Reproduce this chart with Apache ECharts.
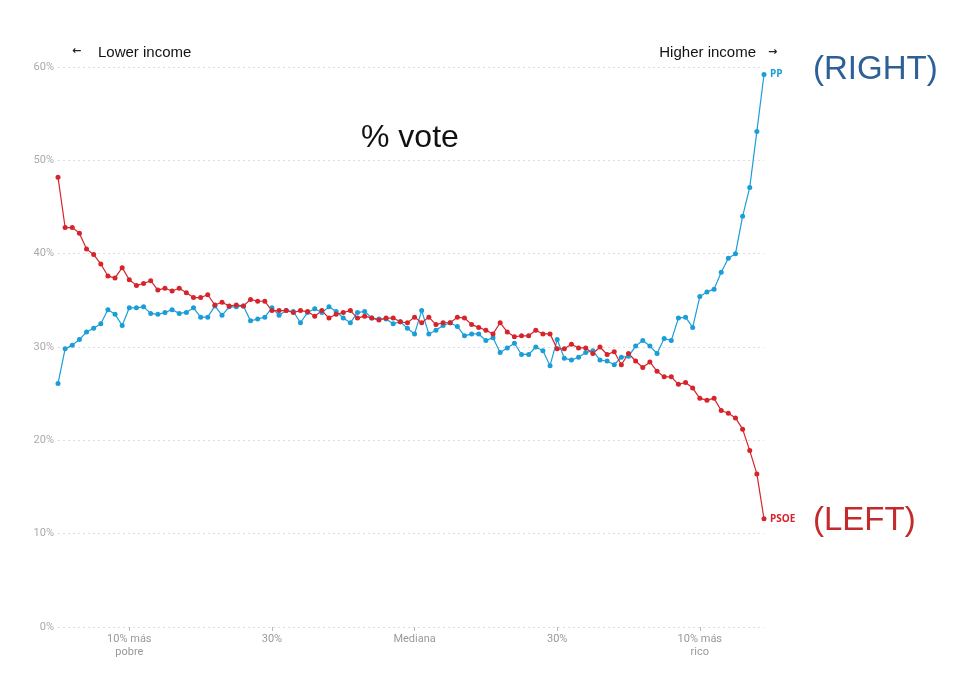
<!DOCTYPE html>
<html>
<head>
<meta charset="utf-8">
<script src="https://cdn.jsdelivr.net/npm/echarts@6/dist/echarts.min.js"></script>
<style>
  html, body { margin: 0; padding: 0; background: #fff; }
  #chart { width: 973px; height: 693px; }
</style>
</head>
<body>
<div id="chart"></div>
<script>
(function() {
  // income percentiles, poorest (0) to richest (99)
  const percentiles = [];
  for (let i = 0; i < 100; i++) percentiles.push(String(i + 1));

  const tickPositions = [10, 30, 50, 70, 90];
  const tickLabels = ['10% más\npobre', '30%', 'Mediana', '30%', '10% más\nrico'];

  const pp = [
    26.1, 29.8, 30.2, 30.8, 31.6, 32.0, 32.5, 34.0, 33.5, 32.3,
    34.2, 34.2, 34.3, 33.6, 33.5, 33.7, 34.0, 33.6, 33.7, 34.2,
    33.2, 33.2, 34.4, 33.4, 34.3, 34.3, 34.4, 32.8, 33.0, 33.2,
    34.2, 33.4, 33.9, 33.8, 32.6, 33.7, 34.1, 33.7, 34.3, 33.8,
    33.1, 32.6, 33.7, 33.8, 33.1, 33.0, 33.0, 32.5, 32.7, 32.0,
    31.4, 33.9, 31.4, 31.8, 32.3, 32.6, 32.2, 31.2, 31.4, 31.4,
    30.7, 31.0, 29.4, 29.9, 30.4, 29.2, 29.2, 30.0, 29.6, 28.0,
    30.8, 28.8, 28.6, 28.9, 29.4, 29.6, 28.6, 28.5, 28.1, 28.9,
    29.0, 30.1, 30.7, 30.1, 29.3, 30.9, 30.7, 33.1, 33.2, 32.1,
    35.4, 35.9, 36.2, 38.0, 39.5, 40.0, 44.0, 47.1, 53.1, 59.2
  ];

  const psoe = [
    48.2, 42.8, 42.8, 42.2, 40.5, 39.9, 38.9, 37.6, 37.4, 38.5,
    37.2, 36.6, 36.8, 37.1, 36.1, 36.3, 36.0, 36.3, 35.8, 35.3,
    35.3, 35.6, 34.5, 34.8, 34.4, 34.5, 34.4, 35.1, 34.9, 34.9,
    33.9, 33.9, 33.9, 33.7, 33.9, 33.8, 33.3, 33.9, 33.1, 33.5,
    33.7, 33.9, 33.1, 33.3, 33.1, 32.9, 33.1, 33.1, 32.7, 32.6,
    33.2, 32.6, 33.2, 32.4, 32.6, 32.6, 33.2, 33.1, 32.4, 32.1,
    31.8, 31.4, 32.6, 31.6, 31.1, 31.2, 31.2, 31.8, 31.4, 31.4,
    29.8, 29.8, 30.3, 29.9, 29.9, 29.3, 30.0, 29.2, 29.5, 28.1,
    29.3, 28.5, 27.8, 28.4, 27.4, 26.8, 26.8, 26.0, 26.2, 25.6,
    24.5, 24.3, 24.5, 23.2, 22.9, 22.4, 21.2, 18.9, 16.4, 11.6
  ];

  const blue = '#1b9ed8';
  const red = '#d7232a';
  const font = "'Liberation Sans', Arial, sans-serif";

  const showTick = (i) => tickPositions.indexOf(i) !== -1;

  function lineSeries(name, data, color) {
    return {
      name: name,
      type: 'line',
      data: data,
      symbol: 'circle',
      symbolSize: 5,
      showAllSymbol: true,
      lineStyle: { color: color, width: 1.2 },
      itemStyle: { color: color },
      endLabel: {
        show: true,
        formatter: name,
        color: color,
        fontSize: 10,
        fontWeight: 'bold',
        fontFamily: 'Open Sans, sans-serif',
        distance: 6
      },
      animation: false
    };
  }

  const option = {
    backgroundColor: '#fff',
    animation: false,
    grid: { left: 58, right: 209, top: 67, bottom: 66 },
    xAxis: {
      type: 'category',
      data: percentiles,
      boundaryGap: false,
      axisLine: { show: false },
      axisTick: {
        show: true,
        interval: (i) => showTick(i),
        length: 4,
        lineStyle: { color: '#bbb' }
      },
      axisLabel: {
        interval: (i) => showTick(i),
        formatter: (v, i) => tickLabels[tickPositions.indexOf(i)],
        color: '#999',
        fontSize: 11,
        fontFamily: 'Roboto, sans-serif',
        lineHeight: 13,
        margin: 6
      },
      splitLine: { show: false }
    },
    yAxis: {
      type: 'value',
      min: 0,
      max: 60,
      interval: 10,
      axisLine: { show: false },
      axisTick: { show: false },
      axisLabel: {
        formatter: '{value}%',
        color: '#aaa',
        fontSize: 11,
        fontFamily: 'Roboto, sans-serif',
        margin: 4
      },
      splitLine: { lineStyle: { color: '#ddd', type: [2, 3], width: 1 } }
    },
    series: [
      lineSeries('PP', pp, blue),
      lineSeries('PSOE', psoe, red)
    ],
    graphic: [
      { type: 'text', left: 72, top: 46,
        style: { text: '←', font: 'bold 11px "DejaVu Sans"', fill: '#222' } },
      { type: 'text', left: 98, top: 45,
        style: { text: 'Lower income', font: '15px ' + font, fill: '#111' } },
      { type: 'text', right: 217, top: 45,
        style: { text: 'Higher income', font: '15px ' + font, fill: '#111' } },
      { type: 'text', left: 768, top: 47,
        style: { text: '→', font: 'bold 11px "DejaVu Sans"', fill: '#222' } },
      { type: 'text', left: 361, top: 122,
        style: { text: '% vote', font: '32px ' + font, fill: '#111' } },
      { type: 'text', left: 813, top: 53,
        style: { text: '(RIGHT)', font: '33px ' + font, fill: '#2d6096' } },
      { type: 'text', left: 813, top: 504,
        style: { text: '(LEFT)', font: '33px ' + font, fill: '#c42a2c' } }
    ]
  };

  const chart = echarts.init(document.getElementById('chart'));
  chart.setOption(option);
}());
</script>
</body>
</html>
